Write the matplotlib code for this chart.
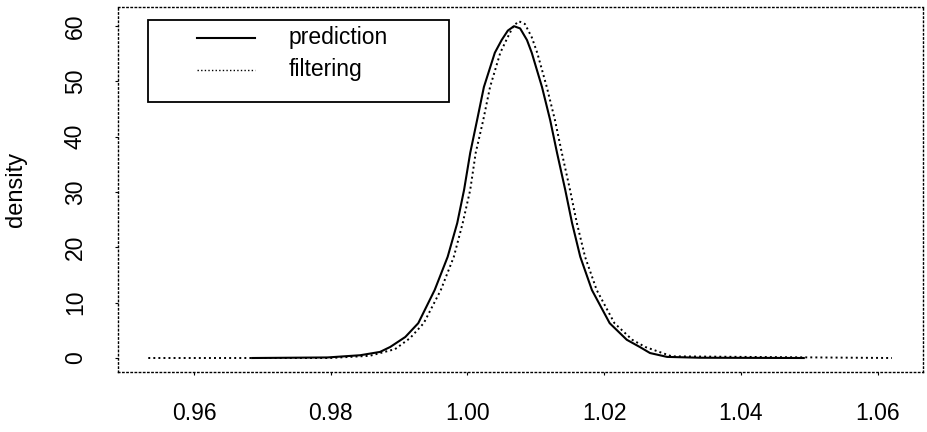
import matplotlib
matplotlib.use("Agg")
import matplotlib.pyplot as plt
from matplotlib.patches import Rectangle

plt.rcParams['font.family'] = ['Liberation Sans', 'DejaVu Sans']

# density of the predictive distribution (solid)
pred_x = [0.9685, 0.9795, 0.9843, 0.9872, 0.9887, 0.9909, 0.9928, 0.9952,
          0.9971, 0.9985, 0.9995, 1.0004, 1.0014, 1.0024, 1.0040, 1.0050,
          1.0059, 1.0068, 1.0077, 1.0087, 1.0094, 1.0109, 1.0121, 1.0131,
          1.0143, 1.0153, 1.0165, 1.0182, 1.0208, 1.0233, 1.0252, 1.0267,
          1.0292, 1.0340, 1.0492]
pred_y = [0.0, 0.1, 0.5, 1.1, 2.0, 3.8, 6.3, 12.3,
          18.3, 24.4, 30.4, 37.1, 43.0, 49.0, 55.2, 57.5,
          59.2, 60.0, 59.6, 57.5, 55.2, 49.0, 43.0, 37.1,
          30.4, 24.4, 18.3, 12.3, 6.3, 3.3, 2.0, 0.9,
          0.2, 0.05, 0.0]

# density of the filtering distribution (dotted)
filt_x = [0.9533, 0.9799, 0.9857, 0.9894, 0.9916, 0.9936, 0.9961, 0.9980,
          0.9993, 1.0004, 1.0012, 1.0023, 1.0033, 1.0048, 1.0058, 1.0067,
          1.0075, 1.0084, 1.0094, 1.0102, 1.0116, 1.0128, 1.0138, 1.0150,
          1.0160, 1.0172, 1.0189, 1.0215, 1.0241, 1.0260, 1.0299, 1.0621]
filt_y = [0.0, 0.0, 0.4, 1.6, 3.6, 6.3, 12.3, 18.3,
          24.4, 30.4, 37.1, 43.0, 49.0, 55.2, 57.8, 60.0,
          60.9, 60.4, 58.0, 55.2, 49.0, 43.0, 37.1, 30.4,
          24.4, 18.3, 12.3, 6.3, 3.3, 2.0, 0.3, 0.0]

x_ticks = [0.96, 0.98, 1.00, 1.02, 1.04, 1.06]
x_labels = ["0.96", "0.98", "1.00", "1.02", "1.04", "1.06"]
y_ticks = [0, 10, 20, 30, 40, 50, 60]
legend_labels = ["prediction", "filtering"]

fig = plt.figure(figsize=(9.27, 4.32), dpi=100)
ax = fig.add_axes([118 / 927, 1 - 372 / 432, 805 / 927, 365 / 432])

dot = (0, (1, 1.6))
ax.plot(pred_x, pred_y, color='black', lw=1.5, solid_joinstyle='round')
ax.plot(filt_x, filt_y, color='black', lw=1.4, linestyle=dot)

ax.set_xlim(0.94887, 1.06664)
ax.set_ylim(-2.53, 63.47)

ax.set_xticks(x_ticks)
ax.set_xticklabels(x_labels)
ax.set_yticks(y_ticks)
ax.set_yticklabels([str(v) for v in y_ticks], rotation=90, va='center')
ax.tick_params(axis='both', direction='out', length=2.5, width=0.8,
               labelsize=16.5)
ax.tick_params(axis='x', pad=19)
ax.tick_params(axis='y', pad=20)

for s in ax.spines.values():
    s.set_linestyle((0, (1, 2)))
    s.set_linewidth(1.0)

ax.set_ylabel("density", fontsize=17)
ax.yaxis.set_label_coords(-0.113, 0.5)

# legend box drawn in axes coordinates
ax.add_patch(Rectangle((0.0373, 0.7397), 0.3739, 0.2247, transform=ax.transAxes,
                       fill=False, edgecolor='black', lw=1.3))
ax.plot([0.0981, 0.1702], [0.9151, 0.9151], transform=ax.transAxes,
        color='black', lw=1.5)
ax.plot([0.0981, 0.1702], [0.8274, 0.8274], transform=ax.transAxes,
        color='black', lw=1.0, linestyle=dot)
ax.text(0.2124, 0.9151, legend_labels[0], transform=ax.transAxes,
        fontsize=16.5, va='center', ha='left')
ax.text(0.2124, 0.8274, legend_labels[1], transform=ax.transAxes,
        fontsize=16.5, va='center', ha='left')

fig.savefig("out.png", dpi=100)
